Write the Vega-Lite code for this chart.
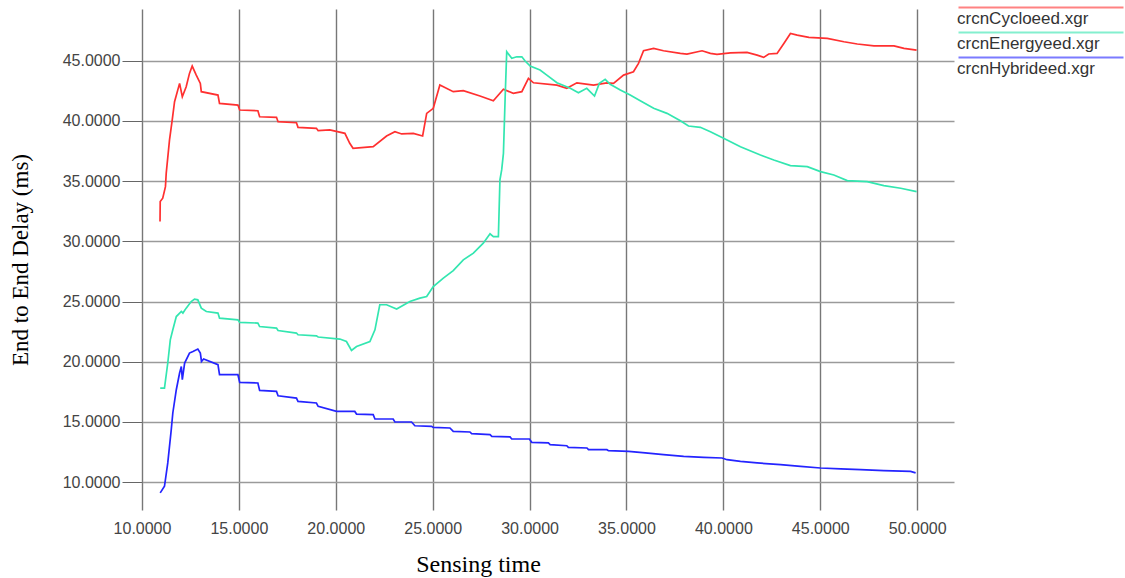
{
  "$schema": "https://vega.github.io/schema/vega-lite/v6.json",
  "autosize": "none",
  "width": 812,
  "height": 501,
  "padding": {"left": 142, "top": 9, "right": 171, "bottom": 68},
  "background": "white",
  "config": {"view": {"stroke": null}},
  "data": {"values": [
    {"s":"crcnCycloeed.xgr","x":10.93,"y":31.64},{"s":"crcnCycloeed.xgr","x":10.94,"y":33.30},{"s":"crcnCycloeed.xgr","x":11.07,"y":33.58},{"s":"crcnCycloeed.xgr","x":11.21,"y":34.54},{"s":"crcnCycloeed.xgr","x":11.25,"y":35.66},{"s":"crcnCycloeed.xgr","x":11.42,"y":38.42},{"s":"crcnCycloeed.xgr","x":11.56,"y":40.08},{"s":"crcnCycloeed.xgr","x":11.68,"y":41.60},{"s":"crcnCycloeed.xgr","x":11.94,"y":43.12},{"s":"crcnCycloeed.xgr","x":12.08,"y":42.01},{"s":"crcnCycloeed.xgr","x":12.28,"y":42.84},{"s":"crcnCycloeed.xgr","x":12.45,"y":43.95},{"s":"crcnCycloeed.xgr","x":12.59,"y":44.56},{"s":"crcnCycloeed.xgr","x":12.80,"y":43.81},{"s":"crcnCycloeed.xgr","x":13.01,"y":43.12},{"s":"crcnCycloeed.xgr","x":13.06,"y":42.43},{"s":"crcnCycloeed.xgr","x":13.92,"y":42.15},{"s":"crcnCycloeed.xgr","x":14.00,"y":41.46},{"s":"crcnCycloeed.xgr","x":14.95,"y":41.32},{"s":"crcnCycloeed.xgr","x":15.04,"y":40.91},{"s":"crcnCycloeed.xgr","x":15.98,"y":40.85},{"s":"crcnCycloeed.xgr","x":16.07,"y":40.35},{"s":"crcnCycloeed.xgr","x":16.94,"y":40.30},{"s":"crcnCycloeed.xgr","x":17.02,"y":39.94},{"s":"crcnCycloeed.xgr","x":17.97,"y":39.85},{"s":"crcnCycloeed.xgr","x":18.05,"y":39.47},{"s":"crcnCycloeed.xgr","x":19.00,"y":39.39},{"s":"crcnCycloeed.xgr","x":19.09,"y":39.19},{"s":"crcnCycloeed.xgr","x":19.69,"y":39.25},{"s":"crcnCycloeed.xgr","x":20.47,"y":38.97},{"s":"crcnCycloeed.xgr","x":20.72,"y":38.14},{"s":"crcnCycloeed.xgr","x":20.89,"y":37.73},{"s":"crcnCycloeed.xgr","x":21.93,"y":37.86},{"s":"crcnCycloeed.xgr","x":22.62,"y":38.75},{"s":"crcnCycloeed.xgr","x":23.05,"y":39.11},{"s":"crcnCycloeed.xgr","x":23.40,"y":38.92},{"s":"crcnCycloeed.xgr","x":24.00,"y":38.97},{"s":"crcnCycloeed.xgr","x":24.48,"y":38.75},{"s":"crcnCycloeed.xgr","x":24.69,"y":40.63},{"s":"crcnCycloeed.xgr","x":25.03,"y":41.05},{"s":"crcnCycloeed.xgr","x":25.37,"y":42.98},{"s":"crcnCycloeed.xgr","x":26.06,"y":42.43},{"s":"crcnCycloeed.xgr","x":26.58,"y":42.51},{"s":"crcnCycloeed.xgr","x":27.44,"y":42.07},{"s":"crcnCycloeed.xgr","x":28.13,"y":41.68},{"s":"crcnCycloeed.xgr","x":28.65,"y":42.63},{"s":"crcnCycloeed.xgr","x":29.16,"y":42.29},{"s":"crcnCycloeed.xgr","x":29.60,"y":42.43},{"s":"crcnCycloeed.xgr","x":29.94,"y":43.54},{"s":"crcnCycloeed.xgr","x":30.20,"y":43.17},{"s":"crcnCycloeed.xgr","x":31.41,"y":42.98},{"s":"crcnCycloeed.xgr","x":31.92,"y":42.71},{"s":"crcnCycloeed.xgr","x":32.44,"y":43.17},{"s":"crcnCycloeed.xgr","x":33.30,"y":42.98},{"s":"crcnCycloeed.xgr","x":33.99,"y":43.17},{"s":"crcnCycloeed.xgr","x":34.33,"y":43.12},{"s":"crcnCycloeed.xgr","x":34.85,"y":43.81},{"s":"crcnCycloeed.xgr","x":35.36,"y":44.09},{"s":"crcnCycloeed.xgr","x":35.62,"y":44.78},{"s":"crcnCycloeed.xgr","x":35.88,"y":45.83},{"s":"crcnCycloeed.xgr","x":36.40,"y":46.03},{"s":"crcnCycloeed.xgr","x":36.91,"y":45.83},{"s":"crcnCycloeed.xgr","x":37.78,"y":45.61},{"s":"crcnCycloeed.xgr","x":38.12,"y":45.56},{"s":"crcnCycloeed.xgr","x":38.90,"y":45.83},{"s":"crcnCycloeed.xgr","x":39.33,"y":45.61},{"s":"crcnCycloeed.xgr","x":39.67,"y":45.53},{"s":"crcnCycloeed.xgr","x":40.36,"y":45.66},{"s":"crcnCycloeed.xgr","x":41.22,"y":45.70},{"s":"crcnCycloeed.xgr","x":41.74,"y":45.47},{"s":"crcnCycloeed.xgr","x":42.08,"y":45.28},{"s":"crcnCycloeed.xgr","x":42.34,"y":45.56},{"s":"crcnCycloeed.xgr","x":42.77,"y":45.61},{"s":"crcnCycloeed.xgr","x":43.12,"y":46.44},{"s":"crcnCycloeed.xgr","x":43.46,"y":47.27},{"s":"crcnCycloeed.xgr","x":43.81,"y":47.13},{"s":"crcnCycloeed.xgr","x":44.41,"y":46.94},{"s":"crcnCycloeed.xgr","x":45.36,"y":46.86},{"s":"crcnCycloeed.xgr","x":46.22,"y":46.58},{"s":"crcnCycloeed.xgr","x":46.91,"y":46.39},{"s":"crcnCycloeed.xgr","x":47.77,"y":46.24},{"s":"crcnCycloeed.xgr","x":48.80,"y":46.24},{"s":"crcnCycloeed.xgr","x":49.32,"y":46.03},{"s":"crcnCycloeed.xgr","x":49.97,"y":45.89},

    {"s":"crcnEnergyeed.xgr","x":10.94,"y":17.81},{"s":"crcnEnergyeed.xgr","x":11.16,"y":17.81},{"s":"crcnEnergyeed.xgr","x":11.33,"y":19.89},{"s":"crcnEnergyeed.xgr","x":11.46,"y":21.82},{"s":"crcnEnergyeed.xgr","x":11.59,"y":22.65},{"s":"crcnEnergyeed.xgr","x":11.77,"y":23.75},{"s":"crcnEnergyeed.xgr","x":12.03,"y":24.17},{"s":"crcnEnergyeed.xgr","x":12.11,"y":24.04},{"s":"crcnEnergyeed.xgr","x":12.28,"y":24.45},{"s":"crcnEnergyeed.xgr","x":12.54,"y":25.00},{"s":"crcnEnergyeed.xgr","x":12.71,"y":25.20},{"s":"crcnEnergyeed.xgr","x":12.88,"y":25.14},{"s":"crcnEnergyeed.xgr","x":13.06,"y":24.45},{"s":"crcnEnergyeed.xgr","x":13.32,"y":24.17},{"s":"crcnEnergyeed.xgr","x":13.92,"y":24.04},{"s":"crcnEnergyeed.xgr","x":14.00,"y":23.62},{"s":"crcnEnergyeed.xgr","x":14.95,"y":23.48},{"s":"crcnEnergyeed.xgr","x":15.04,"y":23.26},{"s":"crcnEnergyeed.xgr","x":15.98,"y":23.21},{"s":"crcnEnergyeed.xgr","x":16.07,"y":22.92},{"s":"crcnEnergyeed.xgr","x":16.94,"y":22.79},{"s":"crcnEnergyeed.xgr","x":17.02,"y":22.59},{"s":"crcnEnergyeed.xgr","x":17.97,"y":22.38},{"s":"crcnEnergyeed.xgr","x":18.05,"y":22.24},{"s":"crcnEnergyeed.xgr","x":19.00,"y":22.15},{"s":"crcnEnergyeed.xgr","x":19.09,"y":22.05},{"s":"crcnEnergyeed.xgr","x":20.21,"y":21.88},{"s":"crcnEnergyeed.xgr","x":20.55,"y":21.68},{"s":"crcnEnergyeed.xgr","x":20.81,"y":20.93},{"s":"crcnEnergyeed.xgr","x":21.07,"y":21.26},{"s":"crcnEnergyeed.xgr","x":21.76,"y":21.68},{"s":"crcnEnergyeed.xgr","x":22.02,"y":22.65},{"s":"crcnEnergyeed.xgr","x":22.27,"y":24.73},{"s":"crcnEnergyeed.xgr","x":22.62,"y":24.73},{"s":"crcnEnergyeed.xgr","x":23.14,"y":24.37},{"s":"crcnEnergyeed.xgr","x":23.82,"y":25.00},{"s":"crcnEnergyeed.xgr","x":24.34,"y":25.28},{"s":"crcnEnergyeed.xgr","x":24.69,"y":25.41},{"s":"crcnEnergyeed.xgr","x":25.03,"y":26.24},{"s":"crcnEnergyeed.xgr","x":25.55,"y":26.94},{"s":"crcnEnergyeed.xgr","x":26.06,"y":27.57},{"s":"crcnEnergyeed.xgr","x":26.58,"y":28.46},{"s":"crcnEnergyeed.xgr","x":27.10,"y":29.02},{"s":"crcnEnergyeed.xgr","x":27.61,"y":29.85},{"s":"crcnEnergyeed.xgr","x":27.96,"y":30.62},{"s":"crcnEnergyeed.xgr","x":28.13,"y":30.39},{"s":"crcnEnergyeed.xgr","x":28.39,"y":30.39},{"s":"crcnEnergyeed.xgr","x":28.47,"y":35.10},{"s":"crcnEnergyeed.xgr","x":28.56,"y":35.93},{"s":"crcnEnergyeed.xgr","x":28.65,"y":37.31},{"s":"crcnEnergyeed.xgr","x":28.74,"y":42.01},{"s":"crcnEnergyeed.xgr","x":28.82,"y":45.75},{"s":"crcnEnergyeed.xgr","x":29.08,"y":45.20},{"s":"crcnEnergyeed.xgr","x":29.34,"y":45.33},{"s":"crcnEnergyeed.xgr","x":29.60,"y":45.33},{"s":"crcnEnergyeed.xgr","x":29.77,"y":44.98},{"s":"crcnEnergyeed.xgr","x":30.03,"y":44.56},{"s":"crcnEnergyeed.xgr","x":30.54,"y":44.23},{"s":"crcnEnergyeed.xgr","x":30.89,"y":43.81},{"s":"crcnEnergyeed.xgr","x":31.41,"y":43.17},{"s":"crcnEnergyeed.xgr","x":32.10,"y":42.71},{"s":"crcnEnergyeed.xgr","x":32.52,"y":42.34},{"s":"crcnEnergyeed.xgr","x":32.95,"y":42.71},{"s":"crcnEnergyeed.xgr","x":33.35,"y":42.07},{"s":"crcnEnergyeed.xgr","x":33.60,"y":43.12},{"s":"crcnEnergyeed.xgr","x":33.90,"y":43.46},{"s":"crcnEnergyeed.xgr","x":34.16,"y":43.04},{"s":"crcnEnergyeed.xgr","x":34.68,"y":42.57},{"s":"crcnEnergyeed.xgr","x":35.19,"y":42.15},{"s":"crcnEnergyeed.xgr","x":35.71,"y":41.68},{"s":"crcnEnergyeed.xgr","x":36.40,"y":41.05},{"s":"crcnEnergyeed.xgr","x":37.09,"y":40.63},{"s":"crcnEnergyeed.xgr","x":37.78,"y":40.02},{"s":"crcnEnergyeed.xgr","x":38.20,"y":39.58},{"s":"crcnEnergyeed.xgr","x":38.81,"y":39.47},{"s":"crcnEnergyeed.xgr","x":39.33,"y":39.11},{"s":"crcnEnergyeed.xgr","x":40.01,"y":38.56},{"s":"crcnEnergyeed.xgr","x":40.88,"y":37.86},{"s":"crcnEnergyeed.xgr","x":41.91,"y":37.17},{"s":"crcnEnergyeed.xgr","x":42.60,"y":36.76},{"s":"crcnEnergyeed.xgr","x":43.46,"y":36.29},{"s":"crcnEnergyeed.xgr","x":44.33,"y":36.20},{"s":"crcnEnergyeed.xgr","x":45.01,"y":35.79},{"s":"crcnEnergyeed.xgr","x":45.70,"y":35.51},{"s":"crcnEnergyeed.xgr","x":46.39,"y":35.04},{"s":"crcnEnergyeed.xgr","x":47.42,"y":34.96},{"s":"crcnEnergyeed.xgr","x":48.28,"y":34.63},{"s":"crcnEnergyeed.xgr","x":49.15,"y":34.41},{"s":"crcnEnergyeed.xgr","x":49.97,"y":34.13},

    {"s":"crcnHybrideed.xgr","x":10.94,"y":9.10},{"s":"crcnHybrideed.xgr","x":11.16,"y":9.65},{"s":"crcnHybrideed.xgr","x":11.33,"y":11.59},{"s":"crcnHybrideed.xgr","x":11.51,"y":14.35},{"s":"crcnHybrideed.xgr","x":11.59,"y":15.74},{"s":"crcnHybrideed.xgr","x":11.77,"y":17.67},{"s":"crcnHybrideed.xgr","x":11.94,"y":19.06},{"s":"crcnHybrideed.xgr","x":12.03,"y":19.60},{"s":"crcnHybrideed.xgr","x":12.08,"y":18.50},{"s":"crcnHybrideed.xgr","x":12.20,"y":19.89},{"s":"crcnHybrideed.xgr","x":12.45,"y":20.72},{"s":"crcnHybrideed.xgr","x":12.63,"y":20.85},{"s":"crcnHybrideed.xgr","x":12.88,"y":21.05},{"s":"crcnHybrideed.xgr","x":13.01,"y":20.72},{"s":"crcnHybrideed.xgr","x":13.07,"y":20.02},{"s":"crcnHybrideed.xgr","x":13.18,"y":20.22},{"s":"crcnHybrideed.xgr","x":13.92,"y":19.75},{"s":"crcnHybrideed.xgr","x":14.00,"y":18.92},{"s":"crcnHybrideed.xgr","x":14.95,"y":18.92},{"s":"crcnHybrideed.xgr","x":15.04,"y":18.28},{"s":"crcnHybrideed.xgr","x":15.98,"y":18.23},{"s":"crcnHybrideed.xgr","x":16.07,"y":17.61},{"s":"crcnHybrideed.xgr","x":16.94,"y":17.53},{"s":"crcnHybrideed.xgr","x":17.02,"y":17.17},{"s":"crcnHybrideed.xgr","x":17.97,"y":16.98},{"s":"crcnHybrideed.xgr","x":18.05,"y":16.70},{"s":"crcnHybrideed.xgr","x":19.00,"y":16.57},{"s":"crcnHybrideed.xgr","x":19.09,"y":16.29},{"s":"crcnHybrideed.xgr","x":20.04,"y":15.87},{"s":"crcnHybrideed.xgr","x":20.98,"y":15.87},{"s":"crcnHybrideed.xgr","x":21.07,"y":15.65},{"s":"crcnHybrideed.xgr","x":21.93,"y":15.60},{"s":"crcnHybrideed.xgr","x":22.02,"y":15.24},{"s":"crcnHybrideed.xgr","x":22.96,"y":15.24},{"s":"crcnHybrideed.xgr","x":23.05,"y":14.99},{"s":"crcnHybrideed.xgr","x":23.91,"y":14.99},{"s":"crcnHybrideed.xgr","x":24.08,"y":14.68},{"s":"crcnHybrideed.xgr","x":24.94,"y":14.63},{"s":"crcnHybrideed.xgr","x":25.03,"y":14.54},{"s":"crcnHybrideed.xgr","x":25.89,"y":14.49},{"s":"crcnHybrideed.xgr","x":26.06,"y":14.21},{"s":"crcnHybrideed.xgr","x":26.92,"y":14.16},{"s":"crcnHybrideed.xgr","x":27.01,"y":14.02},{"s":"crcnHybrideed.xgr","x":27.96,"y":13.94},{"s":"crcnHybrideed.xgr","x":28.05,"y":13.80},{"s":"crcnHybrideed.xgr","x":28.99,"y":13.75},{"s":"crcnHybrideed.xgr","x":29.08,"y":13.58},{"s":"crcnHybrideed.xgr","x":29.99,"y":13.58},{"s":"crcnHybrideed.xgr","x":30.11,"y":13.30},{"s":"crcnHybrideed.xgr","x":30.97,"y":13.25},{"s":"crcnHybrideed.xgr","x":31.06,"y":13.11},{"s":"crcnHybrideed.xgr","x":31.92,"y":13.02},{"s":"crcnHybrideed.xgr","x":32.00,"y":12.88},{"s":"crcnHybrideed.xgr","x":32.96,"y":12.83},{"s":"crcnHybrideed.xgr","x":33.04,"y":12.69},{"s":"crcnHybrideed.xgr","x":33.99,"y":12.69},{"s":"crcnHybrideed.xgr","x":34.07,"y":12.61},{"s":"crcnHybrideed.xgr","x":35.11,"y":12.55},{"s":"crcnHybrideed.xgr","x":35.97,"y":12.42},{"s":"crcnHybrideed.xgr","x":36.91,"y":12.28},{"s":"crcnHybrideed.xgr","x":37.95,"y":12.14},{"s":"crcnHybrideed.xgr","x":38.98,"y":12.05},{"s":"crcnHybrideed.xgr","x":39.93,"y":12.00},{"s":"crcnHybrideed.xgr","x":40.19,"y":11.86},{"s":"crcnHybrideed.xgr","x":40.88,"y":11.72},{"s":"crcnHybrideed.xgr","x":41.74,"y":11.59},{"s":"crcnHybrideed.xgr","x":42.95,"y":11.45},{"s":"crcnHybrideed.xgr","x":43.98,"y":11.31},{"s":"crcnHybrideed.xgr","x":45.01,"y":11.17},{"s":"crcnHybrideed.xgr","x":46.05,"y":11.09},{"s":"crcnHybrideed.xgr","x":47.08,"y":11.03},{"s":"crcnHybrideed.xgr","x":48.28,"y":10.95},{"s":"crcnHybrideed.xgr","x":49.66,"y":10.89},{"s":"crcnHybrideed.xgr","x":49.92,"y":10.76}
  ]},
  "mark": {"type": "line", "strokeWidth": 1.7, "interpolate": "linear"},
  "encoding": {
    "x": {
      "field": "x", "type": "quantitative",
      "scale": {"domain": [10, 51.9], "nice": false, "zero": false},
      "axis": {
        "values": [10, 15, 20, 25, 30, 35, 40, 45, 50],
        "format": ".4f",
        "title": "Sensing time",
        "titleFont": "Liberation Serif", "titleFontSize": 24, "titleFontWeight": "normal", "titleColor": "#000",
        "titleX": 336, "titlePadding": 16,
        "labelFont": "Liberation Sans", "labelFontSize": 16, "labelColor": "#444",
        "labelPadding": 10, "ticks": false, "tickSize": 0, "domain": false,
        "grid": true, "gridColor": "#777", "gridWidth": 1.4,
        "labelFlush": false
      }
    },
    "y": {
      "field": "y", "type": "quantitative",
      "scale": {"domain": [7.68, 49.3], "nice": false, "zero": false},
      "axis": {
        "values": [10, 15, 20, 25, 30, 35, 40, 45],
        "format": ".4f",
        "title": "End to End Delay (ms)",
        "titleFont": "Liberation Serif", "titleFontSize": 23, "titleFontWeight": "normal", "titleColor": "#000",
        "titlePadding": 30,
        "labelFont": "Liberation Sans", "labelFontSize": 16, "labelColor": "#444",
        "labelPadding": 2, "ticks": true, "tickSize": 20, "tickColor": "#666", "tickWidth": 1, "domain": false,
        "grid": true, "gridColor": "#9a9a9a", "gridWidth": 1.6,
        "labelFlush": false
      }
    },
    "color": {
      "field": "s", "type": "nominal",
      "scale": {"domain": ["crcnCycloeed.xgr", "crcnEnergyeed.xgr", "crcnHybrideed.xgr"], "range": ["#ff3030", "#33e6b0", "#2424ff"]},
      "legend": {
        "orient": "none", "legendX": 813, "legendY": 1, "title": null,
        "symbolType": "M -1 -2.2 L 32 -2.2", "symbolSize": 100, "symbolStrokeWidth": 2, "symbolOpacity": 0.6,
        "labelOffset": -15, "labelFont": "Liberation Sans", "labelFontSize": 17, "labelColor": "#333", "labelLimit": 300,
        "rowPadding": 1, "padding": 0
      }
    }
  }
}
